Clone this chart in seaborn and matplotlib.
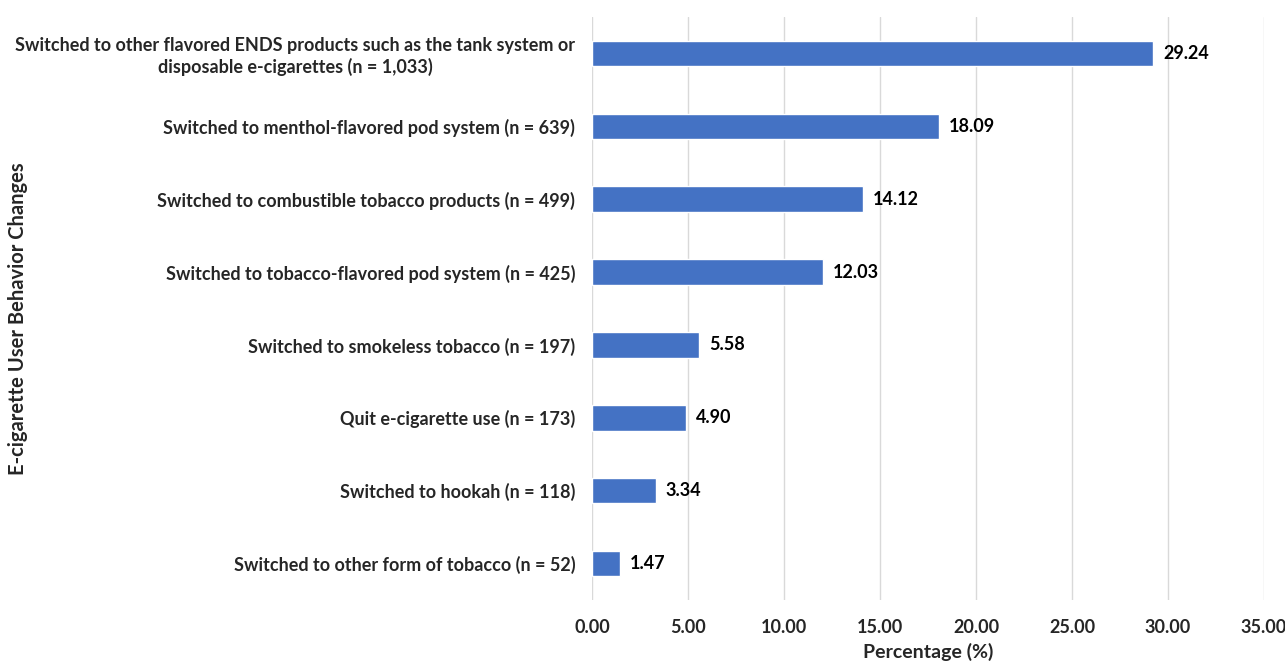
import matplotlib
matplotlib.use("Agg")
import matplotlib.pyplot as plt
import seaborn as sns
import pandas as pd

categories = [
    "Switched to other flavored ENDS products such as the tank system or\ndisposable e-cigarettes (n = 1,033)",
    "Switched to menthol-flavored pod system (n = 639)",
    "Switched to combustible tobacco products (n = 499)",
    "Switched to tobacco-flavored pod system (n = 425)",
    "Switched to smokeless tobacco (n = 197)",
    "Quit e-cigarette use (n = 173)",
    "Switched to hookah (n = 118)",
    "Switched to other form of tobacco (n = 52)",
]
values = [29.24, 18.09, 14.12, 12.03, 5.58, 4.90, 3.34, 1.47]
x_ticks = [0, 5, 10, 15, 20, 25, 30, 35]

df = pd.DataFrame({"behavior": categories, "pct": values})

sns.set_theme(style="white")
plt.rcParams["font.family"] = ["Lato", "DejaVu Sans"]
plt.rcParams["font.weight"] = "bold"

fig = plt.figure(figsize=(12.85, 6.64), dpi=100)
ax = fig.add_axes([592 / 1285, 1 - 600 / 664, 672 / 1285, (600 - 17) / 664])

sns.barplot(data=df, x="pct", y="behavior", color="#4472C4", width=0.35,
            saturation=1, ax=ax, zorder=3)

ax.set_xlim(0, 35)
ax.set_xticks(x_ticks)
ax.set_xticklabels([f"{t:.2f}" for t in x_ticks], fontsize=13, fontweight="bold")
ax.tick_params(axis="y", labelsize=13, length=0, pad=12)
ax.tick_params(axis="x", length=0, pad=14)
for lab in ax.get_yticklabels():
    lab.set_fontweight("bold")
    lab.set_horizontalalignment("right")
    lab.set_multialignment("center")

ax.grid(axis="x", color="#D9D9D9", linewidth=1, zorder=0)
ax.grid(axis="y", visible=False)
for s in ax.spines.values():
    s.set_visible(False)

for c in ax.containers:
    ax.bar_label(c, labels=[f"{v:.2f}" for v in values], padding=7,
                 fontsize=13, fontweight="bold", color="black")

ax.set_xlabel("Percentage (%)", fontsize=14, fontweight="bold", labelpad=5)
ax.set_ylabel("")
fig.text(0.014, 0.52, "E-cigarette User Behavior Changes", rotation=90,
         fontsize=14.5, fontweight="bold", ha="center", va="center")

fig.savefig("out.png", dpi=100)
